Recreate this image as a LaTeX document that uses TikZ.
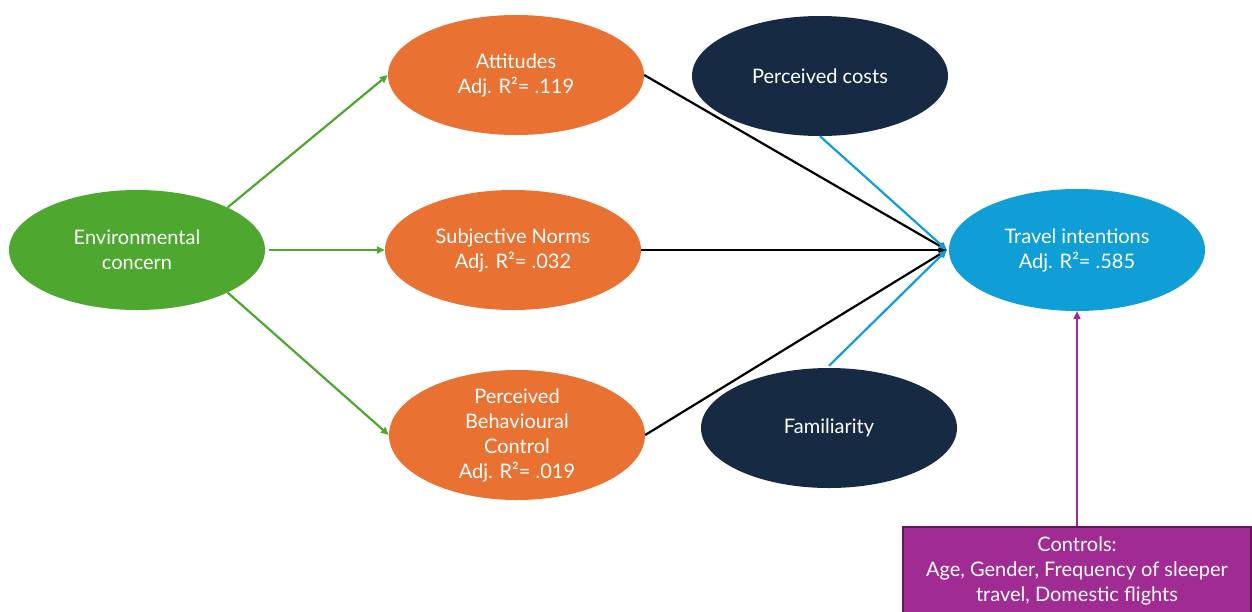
\documentclass[tikz,border=0pt]{standalone}
\usepackage{fontspec}
\setmainfont{Lato}
\usetikzlibrary{shapes.geometric,arrows.meta}
\definecolor{ecgreen}{HTML}{4EA72E}
\definecolor{tporange}{HTML}{E97132}
\definecolor{navy}{HTML}{172A43}
\definecolor{tiblue}{HTML}{0F9ED5}
\definecolor{ctrlpurple}{HTML}{A02B93}
\definecolor{ctrlborder}{HTML}{5C1A54}
\begin{document}
\begin{tikzpicture}[x=1pt,y=-1pt,
  ell/.style={ellipse, inner sep=0pt, minimum width=256pt, minimum height=120pt},
  txt/.style={text=white, align=center, font=\fontsize{20}{25}\selectfont, inner sep=0pt},
  arr/.style={-{Triangle[length=8pt,width=7pt]}, line width=2.2pt}]
\clip (0,0) rectangle (1252,611);
\fill[white] (0,0) rectangle (1252,611);

\node[ell, fill=ecgreen] (ec) at (137,250) {};
\node[txt] (ect) at (ec.center) {Environmental\\concern};

\node[ell, fill=tporange] (att) at (516,75) {};
\node[txt] (attt) at (att.center) {Attitudes\\Adj. R²= .119};

\node[ell, fill=tporange] (sn) at (513,250) {};
\node[txt] (snt) at (sn.center) {Subjective Norms\\Adj. R²= .032};

\node[ell, fill=tporange, minimum height=130pt] (pbc) at (517,435) {};
\node[txt] (pbct) at (pbc.center) {Perceived\\Behavioural\\Control\\Adj. R²= .019};

\node[ell, fill=navy] (pc) at (820,76) {};
\node[txt] (pct) at (pc.center) {Perceived costs};

\node[ell, fill=navy] (fam) at (829,428) {};
\node[txt] (famt) at (fam.center) {Familiarity};

\node[ell, fill=tiblue, minimum height=122pt] (ti) at (1077,250) {};
\node[txt] (tit) at (ti.center) {Travel intentions\\Adj. R²= .585};

\node[rectangle, draw=ctrlborder, line width=1.5pt, fill=ctrlpurple, minimum width=348pt, minimum height=110pt, inner sep=0pt] (ctrl) at (1077,582) {};
\node[txt] (ctrlt) at (1077,571) {Controls:\\Age, Gender, Frequency of sleeper\\travel, Domestic flights};

\coordinate (tiin) at ([xshift=-2pt]ti.west);

\draw[arr, ecgreen] (ec.north east) -- (att.west);
\draw[arr, ecgreen] ([xshift=4pt]ec.east) -- (sn.west);
\draw[arr, ecgreen] (ec.south east) -- (pbc.west);

\draw[arr, black] (att.east) -- (tiin);
\draw[arr, black] (sn.east) -- (tiin);
\draw[arr, black] (pbc.east) -- (tiin);

\draw[arr, tiblue] (pc.south) -- (tiin);
\draw[arr, tiblue] ([yshift=2pt]fam.north) -- (tiin);

\draw[arr, ctrlpurple] (ctrl.north) -- (ti.south);
\end{tikzpicture}
\end{document}
